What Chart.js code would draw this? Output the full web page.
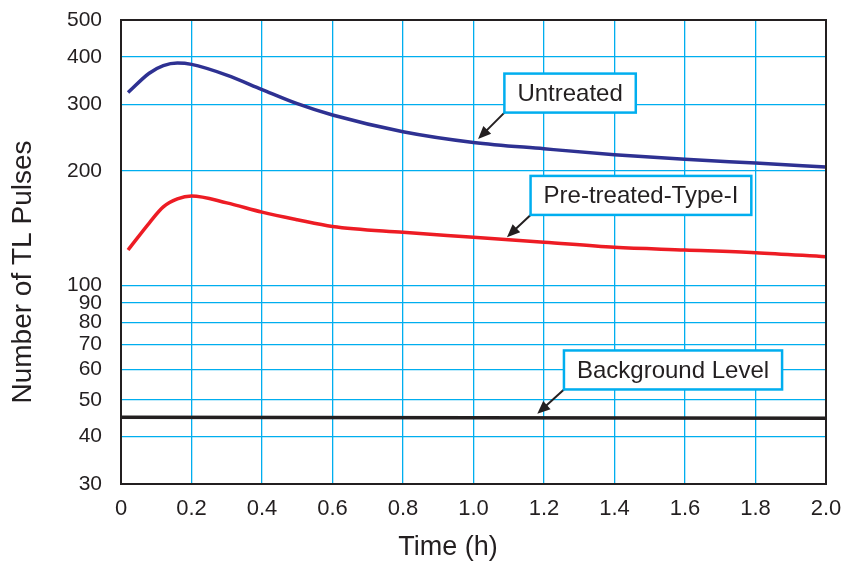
<!DOCTYPE html>
<html>
<head>
<meta charset="utf-8">
<title>Number of TL Pulses</title>
<script src="https://cdn.jsdelivr.net/npm/chart.js@4.4.1/dist/chart.umd.min.js"></script>
<style>
  html, body { margin: 0; padding: 0; background: #fff; }
  #chart { display: block; }
</style>
</head>
<body>
<canvas id="chart" width="845" height="563"></canvas>
<script>
// time axis (h) and readings
const time = [0.02, 0.08, 0.12, 0.16, 0.2, 0.3, 0.4, 0.5, 0.6, 0.8, 1.0, 1.2, 1.4, 1.6, 1.8, 2.0];
const untreated = [322, 362, 379, 385, 382, 358, 328, 301, 281, 254, 238, 229, 221, 215, 210, 205];
const pretreated = [124, 146, 161, 169, 172, 165, 156, 149, 143, 138, 134, 130, 126, 124, 122, 119];
const bgTime = [0, 2.0];
const background = [45, 44.7];

const yTicks = [30, 40, 50, 60, 70, 80, 90, 100, 200, 300, 400, 500];

const xTitle = 'Time (h)';
const yTitle = 'Number of TL Pulses';

// callout labels: box centre and arrow tip, both in data units
const callouts = [
  { text: 'Untreated', x: 1.274, y: 321, tipX: 1.013, tipY: 243 },
  { text: 'Pre-treated-Type-I', x: 1.475, y: 172.6, tipX: 1.095, tipY: 134 },
  { text: 'Background Level', x: 1.566, y: 59.9, tipX: 1.181, tipY: 45.9 }
];

const FONT = "'Liberation Sans', Arial, Helvetica, sans-serif";
const INK = '#231F20';
const CYAN = '#00AEEF';

function toPoints(xs, ys) {
  return xs.map((x, i) => ({ x: x, y: ys[i] }));
}

/**
 * Draws the black frame around the plot, the boxed callouts with arrows
 * and the two axis titles (placed as in the original figure, not centred on the plot).
 */
const framePlugin = {
  id: 'frame',
  afterDatasetsDraw(chart) {
    const { ctx, chartArea: a, scales } = chart;
    ctx.save();
    ctx.strokeStyle = INK;
    ctx.lineWidth = 2;
    ctx.strokeRect(a.left, a.top, a.right - a.left, a.bottom - a.top);

    ctx.font = '24px ' + FONT;
    ctx.textAlign = 'center';
    ctx.textBaseline = 'middle';
    callouts.forEach(c => {
      const cx = scales.x.getPixelForValue(c.x);
      const cy = scales.y.getPixelForValue(c.y);
      const w = ctx.measureText(c.text).width + 26;
      const h = 39;
      const left = cx - w / 2;
      const bottom = cy + h / 2;

      // arrow from bottom-left corner of the box to the curve
      const tx = scales.x.getPixelForValue(c.tipX);
      const ty = scales.y.getPixelForValue(c.tipY);
      const ang = Math.atan2(ty - bottom, tx - left);
      const head = 13;
      ctx.strokeStyle = INK;
      ctx.fillStyle = INK;
      ctx.lineWidth = 2;
      ctx.beginPath();
      ctx.moveTo(left, bottom);
      ctx.lineTo(tx - Math.cos(ang) * head * 0.8, ty - Math.sin(ang) * head * 0.8);
      ctx.stroke();
      ctx.beginPath();
      ctx.moveTo(tx, ty);
      ctx.lineTo(tx - head * Math.cos(ang) + 5.5 * Math.sin(ang), ty - head * Math.sin(ang) - 5.5 * Math.cos(ang));
      ctx.lineTo(tx - head * Math.cos(ang) - 5.5 * Math.sin(ang), ty - head * Math.sin(ang) + 5.5 * Math.cos(ang));
      ctx.closePath();
      ctx.fill();

      // box
      ctx.fillStyle = '#fff';
      ctx.fillRect(left, cy - h / 2, w, h);
      ctx.strokeStyle = CYAN;
      ctx.lineWidth = 2.5;
      ctx.strokeRect(left, cy - h / 2, w, h);
      ctx.fillStyle = INK;
      ctx.fillText(c.text, cx, cy + 1);
    });

    // axis titles
    ctx.fillStyle = INK;
    ctx.font = '27px ' + FONT;
    ctx.fillText(xTitle, 448, 548);
    ctx.translate(23, 272);
    ctx.rotate(-Math.PI / 2);
    ctx.font = '28px ' + FONT;
    ctx.fillText(yTitle, 0, 0);
    ctx.restore();
  }
};

new Chart(document.getElementById('chart'), {
  type: 'line',
  data: {
    datasets: [
      {
        label: 'Untreated',
        data: toPoints(time, untreated),
        borderColor: '#2E3192',
        borderWidth: 3.5,
        pointRadius: 0,
        cubicInterpolationMode: 'monotone'
      },
      {
        label: 'Pre-treated-Type-I',
        data: toPoints(time, pretreated),
        borderColor: '#ED1C24',
        borderWidth: 3.5,
        pointRadius: 0,
        cubicInterpolationMode: 'monotone'
      },
      {
        label: 'Background Level',
        data: toPoints(bgTime, background),
        borderColor: INK,
        borderWidth: 3.5,
        pointRadius: 0
      }
    ]
  },
  options: {
    responsive: false,
    animation: false,
    devicePixelRatio: 1,
    layout: { padding: { left: 0, right: 19, top: 20, bottom: 0 } },
    plugins: {
      legend: { display: false },
      tooltip: { enabled: false }
    },
    scales: {
      x: {
        type: 'linear',
        min: 0,
        max: 2,
        afterFit: scale => {
          scale.height = 79;
          scale.paddingLeft = 0;
          scale.paddingRight = 0;
        },
        ticks: {
          stepSize: 0.2,
          padding: 12,
          color: INK,
          font: { family: FONT, size: 22 },
          maxRotation: 0,
          callback: v => (Math.abs(v) < 1e-9 ? '0' : v.toFixed(1))
        },
        grid: { color: CYAN, lineWidth: 1.3, drawTicks: false },
        border: { color: INK, width: 2 },
        title: { display: false }
      },
      y: {
        type: 'logarithmic',
        min: 30,
        max: 500,
        afterFit: scale => {
          scale.width = 121;
          scale.paddingTop = 0;
          scale.paddingBottom = 0;
        },
        afterBuildTicks: scale => { scale.ticks = yTicks.map(v => ({ value: v })); },
        ticks: {
          padding: 19,
          color: INK,
          font: { family: FONT, size: 21 },
          callback: v => String(v)
        },
        grid: { color: CYAN, lineWidth: 1.3, drawTicks: false },
        border: { color: INK, width: 2 },
        title: { display: false }
      }
    }
  },
  plugins: [framePlugin]
});
</script>
</body>
</html>
